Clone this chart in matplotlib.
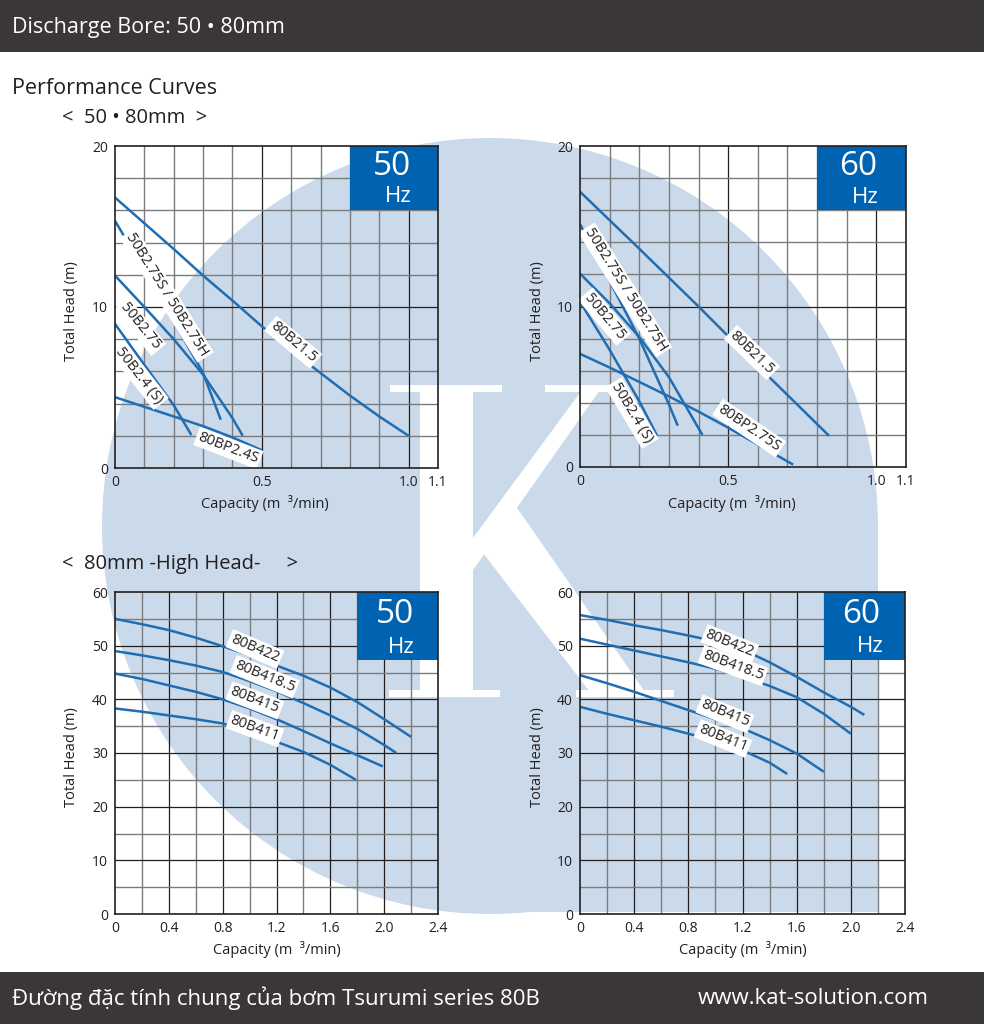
import matplotlib
matplotlib.use('Agg')
import matplotlib.pyplot as plt
from matplotlib.patches import Rectangle, Circle, Polygon

plt.rcParams['font.family'] = ['Open Sans', 'DejaVu Sans']

# ---------------- data ----------------
top_xticks = [0, 0.5, 1.0, 1.1]
top_xticklabels = ['0', '0.5', '1.0', '1.1']
top_yticks = [0, 10, 20]
bot_xticks = [0, 0.4, 0.8, 1.2, 1.6, 2.0, 2.4]
bot_xticklabels = ['0', '0.4', '0.8', '1.2', '1.6', '2.0', '2.4']
bot_yticks = [0, 10, 20, 30, 40, 50, 60]

# 50-80 mm, 50 Hz
t50_names = ['80B21.5', '50B2.75S / 50B2.75H', '50B2.75', '50B2.4 (S)', '80BP2.4S']
t50_q = [[0, 0.1, 0.2, 0.3, 0.4, 0.5, 0.6, 0.7, 0.8, 0.9, 1.0],
         [0, 0.1, 0.2, 0.3, 0.36],
         [0, 0.1, 0.2, 0.3, 0.4, 0.435],
         [0, 0.1, 0.2, 0.26],
         [0, 0.1, 0.2, 0.3, 0.4, 0.5]]
t50_h = [[16.8, 15.2, 13.6, 11.95, 10.4, 8.8, 7.3, 5.9, 4.5, 3.2, 2.0],
         [15.35, 12.3, 9.1, 5.9, 3.0],
         [11.95, 10.0, 8.0, 5.8, 3.1, 2.0],
         [8.95, 6.4, 3.9, 2.05],
         [4.4, 3.8, 3.2, 2.6, 1.9, 1.1]]
t50_lab_x = [0.607, 0.176, 0.085, 0.082, 0.386]
t50_lab_y = [7.81, 10.74, 8.78, 5.74, 1.24]
t50_lab_rot = [-40, -58, -51, -52, -21]

# 50-80 mm, 60 Hz
t60_names = ['80B21.5', '50B2.75S / 50B2.75H', '50B2.75', '50B2.4 (S)', '80BP2.75S']
t60_q = [[0, 0.2, 0.4, 0.6, 0.84],
         [0, 0.1, 0.2, 0.3, 0.33],
         [0, 0.1, 0.2, 0.3, 0.413],
         [0, 0.1, 0.2, 0.26],
         [0, 0.1, 0.2, 0.3, 0.4, 0.5, 0.6, 0.719]]
t60_h = [[17.15, 13.6, 10.0, 6.3, 1.95],
         [15.13, 11.6, 8.0, 3.9, 2.57],
         [12.05, 10.2, 8.1, 5.6, 2.0],
         [10.3, 7.3, 4.1, 1.95],
         [7.05, 6.2, 5.3, 4.4, 3.45, 2.45, 1.4, 0.15]]
t60_lab_x = [0.58, 0.153, 0.083, 0.175, 0.571]
t60_lab_y = [7.13, 11.03, 9.37, 3.36, 2.42]
t60_lab_rot = [-44, -58, -50, -59, -34]

# 80 mm high head, 50 Hz
b50_names = ['80B422', '80B418.5', '80B415', '80B411']
b50_q = [[0, 0.2, 0.4, 0.6, 0.8, 1.0, 1.2, 1.4, 1.6, 1.8, 2.0, 2.2],
         [0, 0.2, 0.4, 0.6, 0.8, 1.0, 1.2, 1.4, 1.6, 1.8, 2.0, 2.09],
         [0, 0.2, 0.4, 0.6, 0.8, 1.0, 1.2, 1.4, 1.6, 1.8, 1.99],
         [0, 0.2, 0.4, 0.6, 0.8, 1.0, 1.2, 1.4, 1.6, 1.79]]
b50_h = [[55.0, 54.0, 52.9, 51.5, 49.9, 48.2, 46.3, 44.4, 42.2, 39.5, 36.3, 33.0],
         [49.0, 48.2, 47.3, 46.3, 45.1, 43.4, 41.5, 39.3, 37.0, 34.5, 31.5, 30.0],
         [44.8, 43.8, 42.6, 41.4, 40.0, 38.3, 36.3, 34.1, 31.8, 29.6, 27.5],
         [38.3, 37.7, 37.0, 36.3, 35.5, 34.0, 32.1, 30.2, 27.8, 25.0]]
b50_lab_x = [1.04, 1.113, 1.04, 1.04]
b50_lab_y = [49.4, 44.2, 39.8, 34.55]
b50_lab_rot = [-23, -22, -21, -20]

# 80 mm high head, 60 Hz
b60_names = ['80B422', '80B418.5', '80B415', '80B411']
b60_q = [[0, 0.2, 0.4, 0.6, 0.8, 1.0, 1.2, 1.4, 1.6, 1.8, 2.0, 2.1],
         [0, 0.2, 0.4, 0.6, 0.8, 1.0, 1.2, 1.4, 1.6, 1.8, 2.0],
         [0, 0.2, 0.4, 0.6, 0.8, 1.0, 1.2, 1.4, 1.6, 1.8],
         [0, 0.2, 0.4, 0.6, 0.8, 1.0, 1.2, 1.4, 1.53]]
b60_h = [[55.7, 54.8, 53.8, 52.9, 51.9, 50.8, 49.3, 46.9, 44.2, 41.3, 38.6, 37.1],
         [51.3, 50.2, 49.1, 48.0, 46.9, 45.7, 44.2, 42.5, 40.4, 37.3, 33.6],
         [44.5, 43.0, 41.4, 39.7, 38.0, 36.3, 34.6, 32.4, 29.9, 26.5],
         [38.6, 37.3, 36.1, 34.9, 33.6, 32.2, 30.5, 28.2, 26.1]]
b60_lab_x = [1.106, 1.13, 1.07, 1.056]
b60_lab_y = [50.4, 46.3, 37.3, 32.7]
b60_lab_rot = [-22, -20, -22, -22]

# ---------------- styling ----------------
W, H = 984, 1024
LINE = '#1f6db3'
BOX = '#0063b1'
WATER = '#cbdaea'
DARK = '#3b3738'
TXT = '#231f20'
MINOR = '#7a7b7e'

fig = plt.figure(figsize=(W / 100, H / 100), dpi=100)
bg = fig.add_axes([0, 0, 1, 1], zorder=0)
bg.set_xlim(0, W)
bg.set_ylim(H, 0)
bg.axis('off')

# watermark
cx, cy, r = 490, 526, 388
bg.add_patch(Circle((cx, cy), r, color=WATER, lw=0))
bg.add_patch(Rectangle((cx, cy), r, r - 2, color=WATER, lw=0))
white = dict(color='white', lw=0)
bg.add_patch(Rectangle((390, 385), 112, 7, **white))
bg.add_patch(Rectangle((420, 388), 53, 306, **white))
bg.add_patch(Rectangle((389, 690), 111, 7, **white))
bg.add_patch(Rectangle((545, 385), 68, 7, **white))
bg.add_patch(Polygon([(473, 538), (473, 570), (600, 390), (582, 390)], **white))
bg.add_patch(Polygon([(483, 553), (515, 505), (645, 692), (590, 692)], **white))
bg.add_patch(Rectangle((576, 690), 98, 7, **white))

# header / footer bars
bg.add_patch(Rectangle((0, 0), W, 52, color=DARK, lw=0))
bg.add_patch(Rectangle((0, 972), W, 52, color=DARK, lw=0))
bg.text(12, 28, 'Discharge Bore: 50 • 80mm', color='white', fontsize=15.5,
        ha='left', va='center')
bg.text(12, 998, 'Đường đặc tính chung của bơm Tsurumi series 80B', color='white',
        fontsize=16, ha='left', va='center')
bg.text(929, 998, 'www.kat-solution.com', color='white', fontsize=16,
        ha='right', va='center')
bg.text(12, 89, 'Performance Curves', color=TXT, fontsize=15.5, ha='left', va='center')
bg.text(62, 118, '<  50 • 80mm  >', color=TXT, fontsize=14.5, ha='left', va='center')
bg.text(62, 564, '<  80mm -High Head-     >', color=TXT, fontsize=14.5, ha='left', va='center')

# axis titles
for (x, y) in [(71, 311), (537, 311), (72, 757), (538, 757)]:
    bg.text(x, y, 'Total Head (m)', rotation=90, fontsize=10.5, color=TXT,
            ha='center', va='center')
for (x, y) in [(265, 504), (732, 504), (277, 949), (743, 949)]:
    bg.text(x, y, 'Capacity (m  ³/min)', fontsize=10.5, color=TXT,
            ha='center', va='center')


def make_ax(left, top, right, bottom):
    return fig.add_axes([left / W, (H - bottom) / H, (right - left) / W, (bottom - top) / H],
                        zorder=2, facecolor='none')


def style_ax(ax, xmax, ymax, xt, xtl, yt, vstep, vmajor, hstep, hmajor):
    ax.set_xlim(0, xmax)
    ax.set_ylim(0, ymax)
    ax.set_xticks(xt)
    ax.set_xticklabels(xtl)
    ax.set_yticks(yt)
    ax.tick_params(length=0, labelsize=10, colors=TXT, pad=5)
    for s in ax.spines.values():
        s.set_color(TXT)
        s.set_linewidth(1.2)
        s.set_zorder(6)
    n = int(round(xmax / vstep))
    for i in range(1, n):
        v = i * vstep
        major = (i % vmajor == 0)
        ax.axvline(v, color=TXT if major else MINOR, lw=0.9 if major else 1.0, zorder=1)
    m = int(round(ymax / hstep))
    for j in range(1, m):
        v = j * hstep
        major = (j % hmajor == 0)
        ax.axhline(v, color=TXT if major else MINOR, lw=0.9 if major else 1.0, zorder=1)


def hz_box(ax, x0, y0, x1, y1, num, nx, ny, hx, hy):
    ax.add_patch(Rectangle((x0, y0), x1 - x0, y1 - y0, color=BOX, lw=0, zorder=3))
    ax.text(nx, ny, num, color='white', fontsize=24, ha='center', va='center', zorder=4)
    ax.text(hx, hy, 'Hz', color='white', fontsize=16, ha='center', va='center', zorder=4)


def curves(ax, qs, hs, names, lx, ly, lr):
    for q, h in zip(qs, hs):
        ax.plot(q, h, color=LINE, lw=1.8, zorder=4, solid_capstyle='butt',
                solid_joinstyle='round')
    for name, x, y, rot in zip(names, lx, ly, lr):
        ax.text(x, y, name, rotation=rot, rotation_mode='anchor', ha='center',
                va='center', fontsize=10.5, color=TXT, zorder=5,
                bbox=dict(boxstyle='square,pad=0.15', fc='white', ec='none'))


# top-left
ax1 = make_ax(115, 146, 438, 468)
style_ax(ax1, 1.1, 20, top_xticks, top_xticklabels, top_yticks, 0.1, 5, 2, 5)
hz_box(ax1, 0.8, 16, 1.1, 20, '50', 0.943, 18.75, 0.965, 16.85)
curves(ax1, t50_q, t50_h, t50_names, t50_lab_x, t50_lab_y, t50_lab_rot)

# top-right
ax2 = make_ax(580, 146, 906, 467)
style_ax(ax2, 1.1, 20, top_xticks, top_xticklabels, top_yticks, 0.1, 5, 2, 5)
hz_box(ax2, 0.8, 16, 1.1, 20, '60', 0.94, 18.75, 0.963, 16.8)
curves(ax2, t60_q, t60_h, t60_names, t60_lab_x, t60_lab_y, t60_lab_rot)

# bottom-left
ax3 = make_ax(115, 592, 438, 914)
style_ax(ax3, 2.4, 60, bot_xticks, bot_xticklabels, bot_yticks, 0.2, 2, 5, 2)
hz_box(ax3, 1.8, 47.3, 2.4, 60, '50', 2.08, 55.8, 2.13, 49.7)
curves(ax3, b50_q, b50_h, b50_names, b50_lab_x, b50_lab_y, b50_lab_rot)

# bottom-right
ax4 = make_ax(580, 592, 905, 914)
style_ax(ax4, 2.4, 60, bot_xticks, bot_xticklabels, bot_yticks, 0.2, 2, 5, 2)
hz_box(ax4, 1.8, 47.3, 2.4, 60, '60', 2.08, 55.8, 2.14, 49.8)
curves(ax4, b60_q, b60_h, b60_names, b60_lab_x, b60_lab_y, b60_lab_rot)

fig.savefig('out.png', dpi=100)
